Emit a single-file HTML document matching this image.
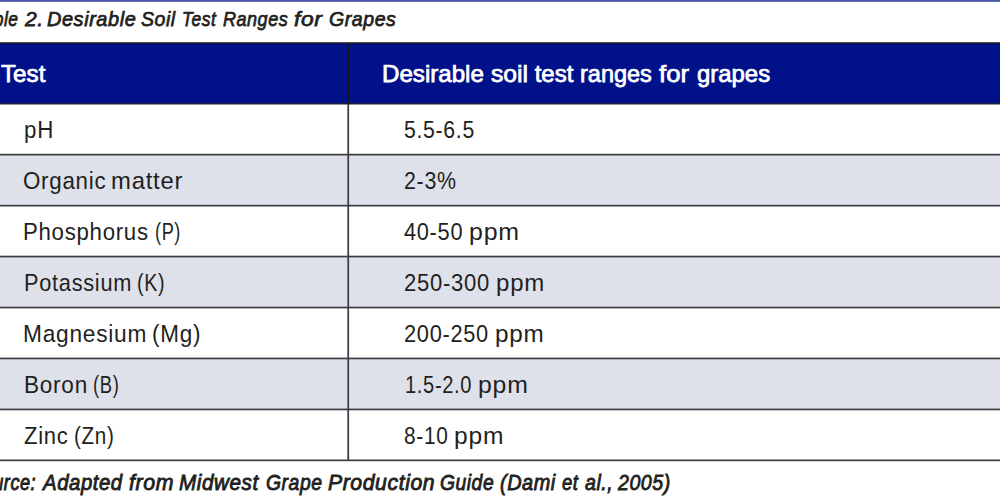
<!DOCTYPE html>
<html><head><meta charset="utf-8">
<style>
html,body{margin:0;padding:0;}
body{width:1000px;height:500px;overflow:hidden;position:relative;background:#fff;font-family:"Liberation Sans",sans-serif;}
svg.bg{position:absolute;left:0;top:0;}
.t{position:absolute;white-space:nowrap;transform-origin:0 0;line-height:1;}
.b{font-size:24.6px;letter-spacing:0.8px;color:#231f20;}
.h{font-size:24.0px;letter-spacing:0.0px;-webkit-text-stroke:0.75px #fff;color:#fff;}
.i{font-size:21.0px;font-style:italic;letter-spacing:0.6px;-webkit-text-stroke:0.75px #231f20;color:#231f20;}
.f{font-size:21.8px;font-style:italic;letter-spacing:0.6px;-webkit-text-stroke:0.85px #231f20;color:#231f20;}
</style></head><body>
<svg class="bg" width="1000" height="500" viewBox="0 0 1000 500">
  <rect x="0" y="0" width="1000" height="1.85" fill="#4a57a9"/>
  <rect x="0" y="43" width="1000" height="60.8" fill="#001189"/>
  <rect x="0" y="154.6" width="1000" height="51" fill="#dee1ea"/>
  <rect x="0" y="256.6" width="1000" height="51" fill="#dee1ea"/>
  <rect x="0" y="358.5" width="1000" height="51" fill="#dee1ea"/>
  <g fill="#3c3c44">
    <rect x="0" y="42.25" width="1000" height="1.6" fill="#1a1a22"/>
    <rect x="0" y="103.15" width="1000" height="1.35" fill="#1a1a22"/>
    <rect x="0" y="153.8" width="1000" height="1.7"/>
    <rect x="0" y="204.8" width="1000" height="1.7"/>
    <rect x="0" y="255.7" width="1000" height="1.7"/>
    <rect x="0" y="306.7" width="1000" height="1.7"/>
    <rect x="0" y="357.6" width="1000" height="1.7"/>
    <rect x="0" y="408.6" width="1000" height="1.7"/>
    <rect x="0" y="459.5" width="1000" height="1.7"/>
    <rect x="347.35" y="104" width="1.75" height="356.5"/>
    <rect x="347.6" y="42.5" width="1.4" height="61.5" fill="#15151f"/>
  </g>
</svg>
<div class="t i" style="left:-26.03px;top:8.00px;transform:scaleX(0.8308)">Table</div>
<div class="t i" style="left:25.00px;top:8.00px;transform:scaleX(1.0000)">2.</div>
<div class="t i" style="left:47.00px;top:8.00px;transform:scaleX(0.9489)">Desirable</div>
<div class="t i" style="left:141.25px;top:8.00px;transform:scaleX(0.9276)">Soil</div>
<div class="t i" style="left:181.67px;top:8.00px;transform:scaleX(0.8293)">Test</div>
<div class="t i" style="left:222.50px;top:8.00px;transform:scaleX(0.8586)">Ranges</div>
<div class="t i" style="left:293.75px;top:8.00px;transform:scaleX(1.0833)">for</div>
<div class="t i" style="left:329.00px;top:8.00px;transform:scaleX(0.9306)">Grapes</div>
<div class="t f" style="left:-30.05px;top:472.00px;transform:scaleX(0.8335)">Source:</div>
<div class="t f" style="left:42.73px;top:472.00px;transform:scaleX(0.9333)">Adapted</div>
<div class="t f" style="left:129.00px;top:472.00px;transform:scaleX(0.9778)">from</div>
<div class="t f" style="left:179.00px;top:472.00px;transform:scaleX(0.9471)">Midwest</div>
<div class="t f" style="left:265.50px;top:472.00px;transform:scaleX(0.8889)">Grape</div>
<div class="t f" style="left:327.50px;top:472.00px;transform:scaleX(0.9725)">Production</div>
<div class="t f" style="left:439.50px;top:472.00px;transform:scaleX(0.8852)">Guide</div>
<div class="t f" style="left:499.50px;top:472.00px;transform:scaleX(0.9113)">(Dami</div>
<div class="t f" style="left:562.00px;top:472.00px;transform:scaleX(0.8500)">et</div>
<div class="t f" style="left:585.00px;top:472.00px;transform:scaleX(0.8966)">al.,</div>
<div class="t f" style="left:617.90px;top:472.00px;transform:scaleX(0.8983)">2005)</div>
<div class="t h" style="left:0.80px;top:62.28px;transform:scaleX(1.0091)">Test</div>
<div class="t h" style="left:382.19px;top:62.28px;transform:scaleX(1.0050)">Desirable</div>
<div class="t h" style="left:491.20px;top:62.28px;transform:scaleX(1.0286)">soil</div>
<div class="t h" style="left:534.70px;top:62.28px;transform:scaleX(1.0000)">test</div>
<div class="t h" style="left:580.22px;top:62.28px;transform:scaleX(0.9792)">ranges</div>
<div class="t h" style="left:659.20px;top:62.28px;transform:scaleX(1.0714)">for</div>
<div class="t h" style="left:696.70px;top:62.28px;transform:scaleX(0.9959)">grapes</div>
<div class="t b" style="left:24.49px;top:118.00px;transform:scaleX(0.9067)">pH</div>
<div class="t b" style="left:23.29px;top:169.00px;transform:scaleX(0.9079)">Organic</div>
<div class="t b" style="left:111.06px;top:169.00px;transform:scaleX(0.9694)">matter</div>
<div class="t b" style="left:23.39px;top:220.00px;transform:scaleX(0.9029)">Phosphorus</div>
<div class="t b" style="left:155.26px;top:220.00px;transform:scaleX(0.7375)">(P)</div>
<div class="t b" style="left:23.73px;top:271.00px;transform:scaleX(0.8856)">Potassium</div>
<div class="t b" style="left:137.20px;top:271.00px;transform:scaleX(0.8000)">(K)</div>
<div class="t b" style="left:23.05px;top:322.00px;transform:scaleX(0.9238)">Magnesium</div>
<div class="t b" style="left:152.09px;top:322.00px;transform:scaleX(0.9137)">(Mg)</div>
<div class="t b" style="left:23.56px;top:373.00px;transform:scaleX(0.9182)">Boron</div>
<div class="t b" style="left:93.25px;top:373.00px;transform:scaleX(0.7500)">(B)</div>
<div class="t b" style="left:24.00px;top:424.00px;transform:scaleX(0.8957)">Zinc</div>
<div class="t b" style="left:74.16px;top:424.00px;transform:scaleX(0.8400)">(Zn)</div>
<div class="t b" style="left:404.14px;top:118.00px;transform:scaleX(0.8625)">5.5-6.5</div>
<div class="t b" style="left:403.93px;top:169.00px;transform:scaleX(0.8690)">2-3%</div>
<div class="t b" style="left:404.00px;top:220.00px;transform:scaleX(0.8848)">40-50</div>
<div class="t b" style="left:469.39px;top:220.00px;transform:scaleX(1.0128)">ppm</div>
<div class="t b" style="left:403.90px;top:271.00px;transform:scaleX(0.8957)">250-300</div>
<div class="t b" style="left:496.02px;top:271.00px;transform:scaleX(0.9766)">ppm</div>
<div class="t b" style="left:403.91px;top:322.00px;transform:scaleX(0.8851)">200-250</div>
<div class="t b" style="left:495.01px;top:322.00px;transform:scaleX(0.9872)">ppm</div>
<div class="t b" style="left:404.76px;top:373.00px;transform:scaleX(0.8177)">1.5-2.0</div>
<div class="t b" style="left:477.99px;top:373.00px;transform:scaleX(1.0085)">ppm</div>
<div class="t b" style="left:403.75px;top:424.00px;transform:scaleX(0.8480)">8-10</div>
<div class="t b" style="left:454.00px;top:424.00px;transform:scaleX(1.0000)">ppm</div>
</body></html>
